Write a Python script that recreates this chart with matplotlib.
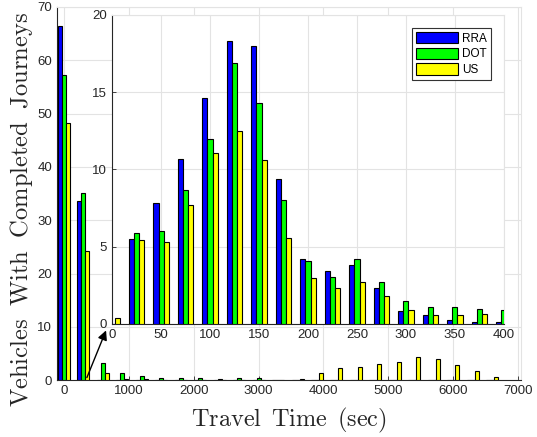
import numpy as np
import matplotlib
matplotlib.use("Agg")
import matplotlib.pyplot as plt

plt.rcParams['font.family'] = ['Liberation Sans', 'DejaVu Sans']
plt.rcParams['mathtext.fontset'] = 'cm'

# full range histogram, 300 s bins
bins_main = np.arange(0, 6601, 300)
rra_main = [66.4, 33.6, 0.1, 0.05, 0, 0, 0, 0, 0, 0, 0, 0,
            0, 0, 0, 0, 0, 0, 0, 0, 0, 0, 0]
dot_main = [57.2, 35.2, 3.2, 1.3, 0.8, 0.5, 0.4, 0.4, 0.2, 0.4, 0.4, 0.1,
            0, 0, 0, 0, 0, 0, 0, 0, 0, 0, 0]
us_main = [48.2, 24.2, 1.3, 0.3, 0.2, 0.1, 0, 0.1, 0, 0, 0, 0.1,
           0.3, 1.3, 2.3, 2.5, 3.0, 3.4, 4.3, 4.0, 2.8, 1.7, 0.6]

# zoomed histogram of the first 400 s, 25 s bins
bins_zoom = np.arange(0, 401, 25)
rra_zoom = [0, 5.5, 7.8, 10.7, 14.6, 18.3, 18.0, 9.4, 4.2, 3.4, 3.8, 2.35, 0.85, 0.55, 0.25, 0.15, 0.1]
dot_zoom = [0, 5.9, 6.05, 8.7, 12.0, 16.9, 14.3, 8.0, 4.1, 3.05, 4.2, 2.75, 1.5, 1.1, 1.1, 0.95, 0.9]
us_zoom = [0.4, 5.45, 5.3, 7.7, 11.05, 12.5, 10.6, 5.55, 3.0, 2.3, 2.75, 1.8, 0.9, 0.6, 0.6, 0.65, 0.5]

names = ["RRA", "DOT", "US"]
colors = ["#0000ff", "#00ff00", "#ffff00"]
tick_col = "#262626"
grid_col = "#e3e3e3"


def grouped_bars(ax, centers, series, step):
    w = 0.205 * step
    for i, (vals, c, n) in enumerate(zip(series, colors, names)):
        ax.bar(centers + (i - 1) * w, vals, width=w, color=c,
               edgecolor="black", linewidth=0.8, label=n, zorder=3)


def style_axes(ax):
    ax.grid(True, color=grid_col, linewidth=0.8, zorder=0)
    ax.set_axisbelow(True)
    for s in ["top", "right"]:
        ax.spines[s].set_color(grid_col)
    for s in ["left", "bottom"]:
        ax.spines[s].set_color(tick_col)
        ax.spines[s].set_linewidth(0.8)
    ax.tick_params(direction="in", length=3, width=0.6, colors=tick_col,
                   labelsize=9.5, top=False, right=False)


fig = plt.figure(figsize=(5.37, 4.37), dpi=100)
ax = fig.add_axes([0.106, 0.130, 0.864, 0.854])
grouped_bars(ax, bins_main, [rra_main, dot_main, us_main], 300)
ax.set_xlim(-105, 7040)
ax.set_ylim(0, 70)
ax.set_xticks(np.arange(0, 7001, 1000))
ax.set_yticks(np.arange(0, 71, 10))
style_axes(ax)
ax.set_xlabel(r"$\mathrm{Travel\ \,Time\ \,(sec)}$", fontsize=17.5, color=tick_col)
ax.xaxis.set_label_coords(0.5, -0.068)
ax.set_ylabel(r"$\mathrm{Vehicles\ \;With\ \;Completed\ \;Journeys}$", fontsize=17.7,
              color=tick_col)
ax.yaxis.set_label_coords(-0.048, 0.458)

ins = fig.add_axes([0.2086, 0.2586, 0.7299, 0.7071])
grouped_bars(ins, bins_zoom, [rra_zoom, dot_zoom, us_zoom], 25)
ins.set_xlim(0, 400)
ins.set_ylim(0, 20)
ins.set_xticks(np.arange(0, 401, 50))
ins.set_yticks(np.arange(0, 21, 5))
style_axes(ins)
leg = ins.legend(loc="upper right", bbox_to_anchor=(0.967, 0.958), borderaxespad=0,
                 fontsize=8.5, handlelength=3.6, handleheight=1.1, handletextpad=0.3,
                 labelspacing=0.25, borderpad=0.35, fancybox=False, framealpha=1)
leg.get_frame().set_edgecolor("#333333")
leg.get_frame().set_linewidth(0.8)

# arrow from the first main bins up to the zoomed panel
ax.annotate("", xy=(-5, -0.25), xycoords=ins.transData,
            xytext=(340, 0), textcoords=ax.transData,
            arrowprops=dict(arrowstyle="-|>", color="black", lw=1,
                            mutation_scale=14),
            annotation_clip=False, zorder=10)

fig.savefig("out.png", dpi=100)
